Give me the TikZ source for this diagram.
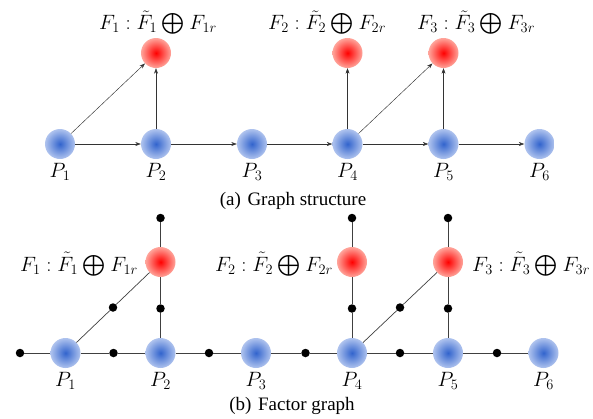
\documentclass[tikz,border=0pt]{standalone}
\usepackage{amsmath}
\usepackage{fontspec}
\setmainfont{Liberation Serif}
\usetikzlibrary{arrows.meta}
\definecolor{pblueC}{RGB}{50,100,205}
\definecolor{pblueO}{RGB}{175,195,238}
\definecolor{fredC}{RGB}{255,0,0}
\definecolor{fredO}{RGB}{255,165,155}
\newcommand{\myoplus}{\mathbin{\smash{\bigoplus}}}
\begin{document}
\begin{tikzpicture}[x=1pt,y=-1pt,
  pnode/.style={circle,minimum size=30pt,inner sep=0pt,shading=radial,inner color=pblueC,outer color=pblueO,
    label={[font=\fontsize{20}{23}\selectfont,inner sep=0pt,label distance=4pt]below:#1}},
  fnode/.style={circle,minimum size=30pt,inner sep=0pt,shading=radial,inner color=fredC,outer color=fredO},
  arr/.style={-{Stealth[length=5.5pt,width=4pt]},line width=0.45pt,draw=black!80},
  fline/.style={line width=0.7pt,draw=black!75},
  dotn/.style={circle,fill=black,minimum size=8.5pt,inner sep=0pt},
  mlbl/.style={font=\fontsize{20}{23}\selectfont,inner sep=0pt},
  captext/.style={font=\fontsize{19}{22}\selectfont,inner sep=0pt}]
\useasboundingbox (0,0) rectangle (593,418);

% ---------- (a) Graph structure ----------
\node[pnode={$P_1$}] (a1) at (60,144) {};
\node[pnode={$P_2$}] (a2) at (156,144) {};
\node[pnode={$P_3$}] (a3) at (252,144) {};
\node[pnode={$P_4$}] (a4) at (347.5,144) {};
\node[pnode={$P_5$}] (a5) at (443.5,144) {};
\node[pnode={$P_6$}] (a6) at (539.5,144) {};
\node[fnode] (af1) at (156,53) {};
\node[fnode] (af2) at (347.5,53) {};
\node[fnode] (af3) at (443.5,53) {};
\node[mlbl,anchor=base] (la1) at (158,29.5) {$F_1:\tilde{F}_1\myoplus F_{1r}$};
\node[mlbl,anchor=base west] (la2) at (268,29.5) {$F_2:\tilde{F}_2\myoplus F_{2r}$};
\node[mlbl,anchor=base west] (la3) at (417,29.5) {$F_3:\tilde{F}_3\myoplus F_{3r}$};

\draw[arr] (a1) -- (a2);
\draw[arr] (a2) -- (a3);
\draw[arr] (a3) -- (a4);
\draw[arr] (a4) -- (a5);
\draw[arr] (a5) -- (a6);
\draw[arr] (a1) -- (af1);
\draw[arr] (a2) -- (af1);
\draw[arr] (a4) -- (af2);
\draw[arr] (a4) -- (af3);
\draw[arr] (a5) -- (af3);

\node[captext,anchor=base] (capa) at (293,205) {(a)\hspace{0.35em}Graph structure};

% ---------- (b) Factor graph ----------
\node[pnode={$P_1$}] (b1) at (65.5,353) {};
\node[pnode={$P_2$}] (b2) at (160.5,353) {};
\node[pnode={$P_3$}] (b3) at (256,353) {};
\node[pnode={$P_4$}] (b4) at (352,353) {};
\node[pnode={$P_5$}] (b5) at (448,353) {};
\node[pnode={$P_6$}] (b6) at (543.5,353) {};
\node[fnode] (bf1) at (160.5,262) {};
\node[fnode] (bf2) at (352,262) {};
\node[fnode] (bf3) at (448,262) {};

\node[dotn] (h0) at (20,353) {};
\node[dotn] (h1) at (113.5,353) {};
\node[dotn] (h2) at (209,353) {};
\node[dotn] (h3) at (305.5,353) {};
\node[dotn] (h4) at (400,353) {};
\node[dotn] (h5) at (497,353) {};

\node[dotn] (t1) at (160.5,218) {};
\node[dotn] (t2) at (352,218) {};
\node[dotn] (t3) at (448,218) {};

\node[dotn] (v1) at (160.5,308.5) {};
\node[dotn] (v2) at (352,308.5) {};
\node[dotn] (v3) at (448,308.5) {};

\node[dotn] (g1) at (113,307.5) {};
\node[dotn] (g2) at (400,307.5) {};

\draw[fline] (h0) -- (b1);
\draw[fline] (b1) -- (h1) -- (b2);
\draw[fline] (b2) -- (h2) -- (b3);
\draw[fline] (b3) -- (h3) -- (b4);
\draw[fline] (b4) -- (h4) -- (b5);
\draw[fline] (b5) -- (h5) -- (b6);
\draw[fline] (t1) -- (bf1);
\draw[fline] (t2) -- (bf2);
\draw[fline] (t3) -- (bf3);
\draw[fline] (bf1) -- (v1) -- (b2);
\draw[fline] (bf2) -- (v2) -- (b4);
\draw[fline] (bf3) -- (v3) -- (b5);
\draw[fline] (b1) -- (g1) -- (bf1);
\draw[fline] (b4) -- (g2) -- (bf3);

\node[mlbl,anchor=base east] (lb1) at (138,271) {$F_1:\tilde{F}_1\myoplus F_{1r}$};
\node[mlbl,anchor=base east] (lb2) at (333,271) {$F_2:\tilde{F}_2\myoplus F_{2r}$};
\node[mlbl,anchor=base west] (lb3) at (472,271) {$F_3:\tilde{F}_3\myoplus F_{3r}$};

\node[captext,anchor=base] (capb) at (292,410) {(b)\hspace{0.35em}Factor graph};
\end{tikzpicture}
\end{document}
